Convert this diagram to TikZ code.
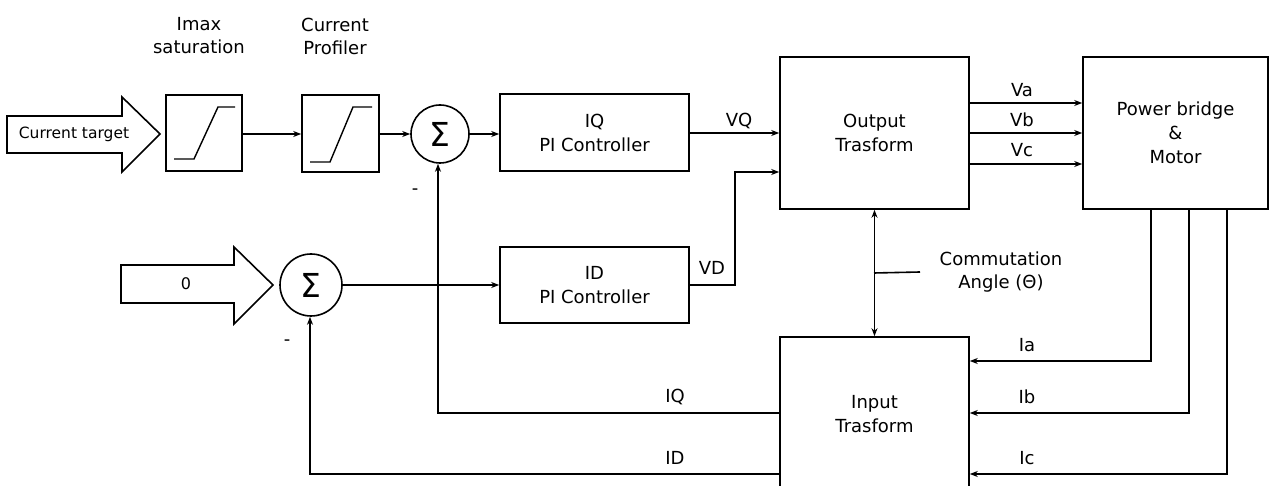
\documentclass[tikz,border=0pt]{standalone}
\usepackage{fontspec}
\setmainfont{DejaVu Sans}
\usetikzlibrary{arrows.meta}
\begin{document}
\begin{tikzpicture}[x=1pt,y=-1pt,
  line width=1.6pt,
  every node/.style={font=\fontsize{18}{24}\selectfont, inner sep=0pt},
  blk/.style={draw, rectangle, align=center},
  sumnode/.style={draw, circle, minimum size=58pt, font=\fontsize{33}{33}\selectfont},
  lbl/.style={font=\fontsize{18}{23}\selectfont, align=center},
  arr/.style={-{Stealth[length=8pt,width=6pt]}},
  darr/.style={{Stealth[length=8pt,width=6pt]}-{Stealth[length=8pt,width=6pt]}}
]
\useasboundingbox (0,0) rectangle (1270,486);
\clip (0,0) rectangle (1270,486);

% blocks
\node[blk, minimum width=76pt, minimum height=76pt] (imax) at (204,133) {};
\node[blk, minimum width=77pt, minimum height=77pt] (prof) at (340.5,133.5) {};
\node[sumnode] (sum1) at (440,134) {Σ};
\node[blk, minimum width=189pt, minimum height=77pt] (iqpi) at (594.5,132.5) {IQ\\PI Controller};
\node[blk, minimum width=189pt, minimum height=76pt] (idpi) at (594.5,285) {ID\\PI Controller};
\node[sumnode, minimum size=62pt] (sum2) at (311,285) {Σ};
\node[blk, minimum width=189pt, minimum height=152pt] (out) at (874.5,133) {Output\\Trasform};
\node[blk, minimum width=185pt, minimum height=152pt] (pwr) at (1175.5,133) {Power bridge\\\&\\Motor};
\node[blk, minimum width=189pt, minimum height=154pt] (inp) at (874.5,414) {Input\\Trasform};

% saturation curves
\draw[line width=1.4pt] (174,159) -- (194,159) -- (218,107) -- (235,107);
\draw[line width=1.4pt] (310,162) -- (330,162) -- (353,107) -- (372,107);

% top labels
\node[lbl] (limax) at (199,36) {Imax\\saturation};
\node[lbl] (lprof) at (335,36) {Current\\Profiler};

% big input arrows
\draw (7,116) -- (122,116) -- (122,97) -- (160,134) -- (122,172) -- (122,153) -- (7,153) -- cycle;
\node[font=\fontsize{15.5}{16}\selectfont] (tgt) at (74,134) {Current target};
\coordinate (tip1) at (160,134);
\draw (121,265) -- (234,265) -- (234,247) -- (273,285) -- (234,324) -- (234,303) -- (121,303) -- cycle;
\node[font=\fontsize{16}{16}\selectfont] (zero) at (186,284) {0};

% forward path
\draw[arr] (imax.east |- 0,134) -- (prof.west |- 0,134);
\draw[arr] (prof.east |- 0,134) -- (sum1.west |- 0,134);
\draw[arr] (sum1.east |- 0,134) -- (iqpi.west |- 0,134);
\draw[arr] (iqpi.east |- 0,133) -- (out.west |- 0,133);
\node[lbl] (lvq) at (739,121) {VQ};
\draw[arr] (sum2.east) -- (idpi.west);
\coordinate (vdc1) at (735,285);
\coordinate (vdc2) at (735,172);
\draw[arr] (idpi.east) -- (vdc1) -- (vdc2) -- (out.west |- vdc2);
\node[lbl] (lvd) at (712,268) {VD};

% phase voltages
\draw[arr] (out.east |- 0,103) -- (pwr.west |- 0,103);
\draw[arr] (out.east |- 0,133) -- (pwr.west |- 0,133);
\draw[arr] (out.east |- 0,164) -- (pwr.west |- 0,164);
\node[lbl] (lva) at (1022,90) {Va};
\node[lbl] (lvb) at (1022,120) {Vb};
\node[lbl] (lvc) at (1022,150) {Vc};

% commutation angle
\draw[darr] (out.south) -- (inp.north);
\coordinate (cm1) at (874,273);
\coordinate (cm2) at (920,272);
\draw (cm1) -- (cm2);
\node[lbl] (lcomm) at (1001,272) {Commutation\\Angle (Θ)};

% phase currents
\coordinate (ia1) at (1151,209);
\coordinate (ib1) at (1189,209);
\coordinate (ic1) at (1227,209);
\draw[arr] (ia1) -- (1151,361) -- (inp.east |- 0,361);
\draw[arr] (ib1) -- (1189,413) -- (inp.east |- 0,413);
\draw[arr] (ic1) -- (1227,474) -- (inp.east |- 0,474);
\node[lbl] (lia) at (1027,345) {Ia};
\node[lbl] (lib) at (1027,397) {Ib};
\node[lbl] (lic) at (1027,458) {Ic};

% feedback
\draw[arr] (inp.west |- 0,413) -- (438,413) -- (sum1.south -| 438,0);
\draw[arr] (inp.west |- 0,474) -- (310,474) -- (sum2.south -| 310,0);
\node[lbl] (liq) at (675,397) {IQ};
\node[lbl] (lid) at (675,458) {ID};
\node[lbl] (m1) at (415,192) {-};
\node[lbl] (m2) at (287,343) {-};
\end{tikzpicture}
\end{document}
